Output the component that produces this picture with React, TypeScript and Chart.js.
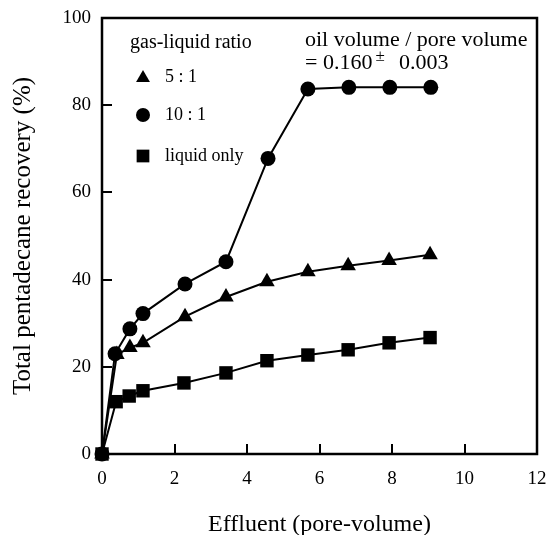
import React, { useEffect, useRef } from "react";
import { Chart, registerables } from "chart.js";
import { drawPoint } from "chart.js/helpers";

Chart.register(...registerables);

// Data
const xTriangle = [0, 0.41, 0.77, 1.13, 2.29, 3.42, 4.55, 5.68, 6.79, 7.92, 9.05];
const ratio5to1 = [0, 22.8, 24.4, 25.5, 31.5, 36.0, 39.5, 41.8, 43.2, 44.4, 45.7];

const xCircle = [0, 0.36, 0.77, 1.13, 2.29, 3.42, 4.58, 5.68, 6.81, 7.94, 9.07];
const ratio10to1 = [0, 23.0, 28.7, 32.2, 39.0, 44.1, 67.8, 83.7, 84.1, 84.1, 84.1];

const xSquare = [0, 0.39, 0.75, 1.13, 2.26, 3.42, 4.55, 5.68, 6.79, 7.92, 9.05];
const liquidOnly = [0, 12.0, 13.3, 14.5, 16.3, 18.6, 21.4, 22.7, 23.9, 25.5, 26.7];

const xTitle = "Effluent (pore-volume)";
const yTitle = "Total pentadecane recovery (%)";
const legendTitle = "gas-liquid ratio";
const legendLabels = ["5 : 1", "10 : 1", "liquid only"];
const noteLine1 = "oil volume / pore volume";
const noteLine2a = "= 0.160";
const notePlusMinus = "±";
const noteLine2b = "0.003";

const SERIF = "'Liberation Serif', 'Times New Roman', serif";

const toPoints = (xs: number[], ys: number[]) => xs.map((x, i) => ({ x, y: ys[i] }));

export default function App() {
  const ref = useRef<HTMLCanvasElement | null>(null);

  useEffect(() => {
    document.body.style.margin = "0";
    const canvas = ref.current;
    if (!canvas) return;

    const framePlugin = {
      id: "frame",
      beforeDatasetsDraw(chart: any) {
        const { ctx, chartArea } = chart;
        ctx.save();
        ctx.strokeStyle = "#000";
        ctx.lineWidth = 2.5;
        ctx.strokeRect(chartArea.left, chartArea.top, chartArea.right - chartArea.left, chartArea.bottom - chartArea.top);
        ctx.restore();
      },
    };

    const notesPlugin = {
      id: "notes",
      afterDraw(chart: any) {
        const { ctx } = chart;
        ctx.save();
        ctx.fillStyle = "#000";
        ctx.textBaseline = "middle";
        ctx.textAlign = "left";
        ctx.font = `20px ${SERIF}`;
        ctx.fillText(legendTitle, 130, 43);
        ctx.font = `18px ${SERIF}`;
        ctx.fillText(legendLabels[0], 165, 77);
        ctx.fillText(legendLabels[1], 165, 115);
        ctx.fillText(legendLabels[2], 165, 156);
        const opts = { borderWidth: 0, rotation: 0 } as any;
        ctx.fillStyle = "#000";
        ctx.strokeStyle = "#000";
        drawPoint(ctx, { ...opts, pointStyle: "triangle", radius: 8 }, 143, 78);
        drawPoint(ctx, { ...opts, pointStyle: "circle", radius: 7 }, 143, 115);
        drawPoint(ctx, { ...opts, pointStyle: "rect", radius: 9 }, 143, 156);

        ctx.font = `22px ${SERIF}`;
        ctx.fillText(noteLine1, 305, 40);
        ctx.fillText(noteLine2a, 305, 63);
        const w = ctx.measureText(noteLine2a).width;
        ctx.font = `17px ${SERIF}`;
        ctx.fillText(notePlusMinus, 305 + w + 3, 57);
        ctx.font = `22px ${SERIF}`;
        ctx.fillText(noteLine2b, 399, 63);
        ctx.restore();
      },
    };

    const common = {
      borderColor: "#000",
      backgroundColor: "#000",
      pointBackgroundColor: "#000",
      pointBorderColor: "#000",
      borderWidth: 2,
      pointBorderWidth: 0,
      showLine: true,
      tension: 0,
      clip: false as any,
    };

    const chart = new Chart(canvas, {
      type: "scatter",
      data: {
        datasets: [
          { ...common, label: legendLabels[2], data: toPoints(xSquare, liquidOnly), pointStyle: "rect", pointRadius: 9.5 },
          { ...common, label: legendLabels[1], data: toPoints(xCircle, ratio10to1), pointStyle: "circle", pointRadius: 7.5 },
          { ...common, label: legendLabels[0], data: toPoints(xTriangle, ratio5to1), pointStyle: "triangle", pointRadius: 9 },
        ],
      },
      options: {
        responsive: false,
        animation: false,
        events: [],
        layout: { padding: { left: 0, right: 12, top: 18, bottom: 0 } },
        plugins: { legend: { display: false }, tooltip: { enabled: false } },
        scales: {
          x: {
            type: "linear",
            min: 0,
            max: 12,
            afterFit: (s: any) => { s.height = 81; s.paddingLeft = 0; s.paddingRight = 0; },
            ticks: { stepSize: 2, color: "#000", font: { family: SERIF, size: 19 }, padding: 24, maxRotation: 0 },
            grid: { drawOnChartArea: false, drawTicks: true, tickLength: -10, color: "#000", lineWidth: 2 },
            border: { display: false },
            title: { display: true, text: xTitle, color: "#000", font: { family: SERIF, size: 24, lineHeight: 0.85 }, padding: { top: 0, bottom: 0 } },
          },
          y: {
            min: 0,
            max: 100,
            afterFit: (s: any) => { s.width = 102; s.paddingTop = 0; s.paddingBottom = 0; },
            ticks: { stepSize: 20, color: "#000", font: { family: SERIF, size: 19 }, padding: 21 },
            grid: { drawOnChartArea: false, drawTicks: true, tickLength: -10, color: "#000", lineWidth: 2 },
            border: { display: false },
            title: { display: true, text: yTitle, color: "#000", font: { family: SERIF, size: 25, lineHeight: 1.2 }, padding: { top: 8, bottom: 0 } },
          },
        },
      },
      plugins: [framePlugin, notesPlugin],
    });

    return () => chart.destroy();
  }, []);

  return (
    <div style={{ width: 549, height: 535 }}>
      <canvas ref={ref} width={549} height={535} />
    </div>
  );
}
